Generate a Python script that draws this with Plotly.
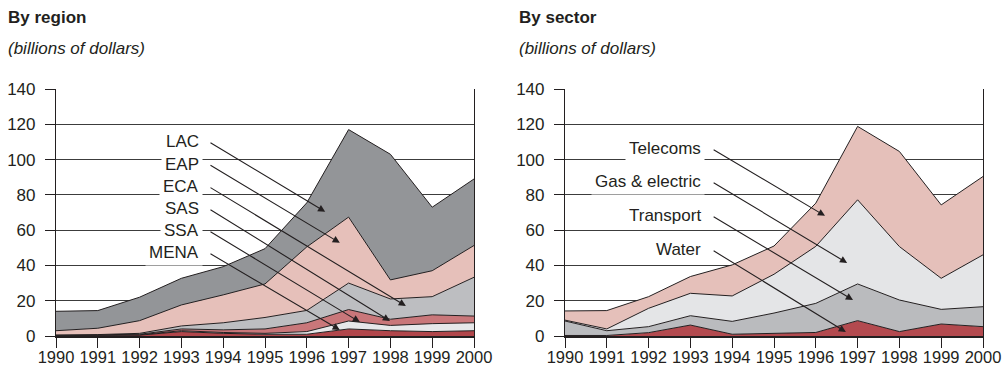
import plotly.graph_objects as go

years = [1990, 1991, 1992, 1993, 1994, 1995, 1996, 1997, 1998, 1999, 2000]

# By region (billions of dollars), stacked bottom to top
mena = [0.2, 0.2, 0.5, 2.5, 1.5, 1.0, 1.0, 4.0, 3.0, 2.5, 3.0]
ssa = [0.1, 0.1, 0.2, 0.5, 0.5, 0.5, 1.5, 4.5, 3.0, 4.5, 4.5]
sas = [0.1, 0.2, 0.3, 1.0, 1.5, 2.5, 5.0, 6.5, 3.5, 5.0, 3.8]
eca = [0.2, 0.3, 0.5, 1.7, 4.0, 6.5, 7.0, 15.0, 11.5, 10.3, 22.0]
eap = [2.4, 3.6, 7.2, 11.9, 15.8, 19.0, 36.0, 37.4, 10.8, 14.7, 18.0]
lac = [11.0, 10.0, 13.3, 15.1, 16.0, 20.0, 25.0, 49.6, 71.2, 36.0, 37.7]

# By sector (billions of dollars), stacked bottom to top
water = [0.3, 0.3, 1.9, 6.2, 1.0, 1.5, 2.0, 8.7, 2.5, 6.8, 5.3]
transport = [8.2, 2.7, 3.4, 5.3, 7.3, 11.5, 16.5, 20.8, 17.9, 8.3, 11.3]
gas_electric = [0.5, 1.0, 10.4, 12.7, 14.4, 22.0, 32.3, 47.7, 30.3, 17.6, 29.4]
telecoms = [5.2, 10.4, 6.6, 9.5, 17.6, 16.0, 24.5, 41.6, 53.9, 41.6, 44.4]

y_ticks = [0, 20, 40, 60, 80, 100, 120, 140]

FONT = "Liberation Sans, Arial, Helvetica, sans-serif"
INK = "#231f20"

region_series = [
    ("MENA", mena, "#b1464b"),
    ("SSA", ssa, "#e6e7e9"),
    ("SAS", sas, "#c9777a"),
    ("ECA", eca, "#bdbec1"),
    ("EAP", eap, "#e6c0ba"),
    ("LAC", lac, "#939598"),
]
sector_series = [
    ("Water", water, "#b34a4f"),
    ("Transport", transport, "#babbbe"),
    ("Gas & electric", gas_electric, "#e4e5e7"),
    ("Telecoms", telecoms, "#e5c0ba"),
]

fig = go.Figure()

for name, vals, col in region_series:
    fig.add_trace(go.Scatter(
        x=years, y=vals, name=name, stackgroup="region", mode="lines",
        line=dict(color=INK, width=1), fillcolor=col,
        xaxis="x", yaxis="y", showlegend=False, hoverinfo="skip"))

for name, vals, col in sector_series:
    fig.add_trace(go.Scatter(
        x=years, y=vals, name=name, stackgroup="sector", mode="lines",
        line=dict(color=INK, width=1), fillcolor=col,
        xaxis="x2", yaxis="y2", showlegend=False, hoverinfo="skip"))

W, H = 1002, 368
y_dom = [(H - 336) / H, (H - 89) / H]

xaxis_style = dict(
    range=[1990, 2000], tickvals=years, ticktext=[str(y) for y in years],
    showgrid=False, zeroline=False, showline=True, linecolor=INK, linewidth=2,
    ticks="outside", ticklen=10, tickcolor=INK, tickwidth=1, automargin=False,
    ticklabelstandoff=-5,
    tickfont=dict(family=FONT, size=16.5, color=INK), fixedrange=True)
yaxis_style = dict(
    range=[0, 140], tickvals=y_ticks, showgrid=True, gridcolor="#3c3c3c",
    gridwidth=1.2, zeroline=False, showline=True, mirror=True,
    linecolor=INK, linewidth=1.2, ticks="outside", ticklen=10,
    tickcolor=INK, tickwidth=1, ticklabelstandoff=6, automargin=False,
    tickfont=dict(family=FONT, size=17, color=INK), fixedrange=True)

fig.update_layout(
    width=W, height=H, margin=dict(l=0, r=0, t=0, b=0, autoexpand=False),
    paper_bgcolor="white", plot_bgcolor="white",
    xaxis=dict(domain=[56 / W, 474 / W], anchor="y", **xaxis_style),
    yaxis=dict(domain=y_dom, anchor="x", **yaxis_style),
    xaxis2=dict(domain=[565 / W, 983 / W], anchor="y2", **xaxis_style),
    yaxis2=dict(domain=y_dom, anchor="x2", **yaxis_style),
)

annotations = []

# Panel headings
for x0, head in [(6, "By region"), (517, "By sector")]:
    annotations.append(dict(
        text="<b>%s</b>" % head, x=x0 / W, y=(H - 17) / H, xref="paper", yref="paper",
        xanchor="left", yanchor="middle", showarrow=False,
        font=dict(family=FONT, size=17, color=INK)))
    annotations.append(dict(
        text="<i>(billions of dollars)</i>", x=x0 / W, y=(H - 48) / H,
        xref="paper", yref="paper", xanchor="left", yanchor="middle",
        showarrow=False, font=dict(family=FONT, size=17, color=INK)))

# Series labels: (label, label y, arrow tip x, arrow tip y) in data units
region_labels = [
    ("LAC", 110.1, 1996.44, 70.4),
    ("EAP", 97.3, 1996.79, 52.8),
    ("ECA", 84.6, 1998.37, 17.0),
    ("SAS", 72.1, 1997.99, 8.5),
    ("SSA", 59.6, 1997.27, 7.9),
    ("MENA", 47.1, 1996.79, 3.4),
]
sector_labels = [
    ("Telecoms", 106.1, 1996.22, 68.1),
    ("Gas & electric", 87.4, 1996.75, 41.4),
    ("Transport", 68.1, 1996.89, 20.4),
    ("Water", 48.8, 1996.72, 2.3),
]

for labels, xr, yr, text_x, tail_x in [
    (region_labels, "x", "y", 1993.52, 1993.66),
    (sector_labels, "x2", "y2", 1993.35, 1993.52),
]:
    for label, ly, tx, ty in labels:
        annotations.append(dict(
            text=label, x=text_x, y=ly, xref=xr, yref=yr, xanchor="right",
            yanchor="middle", showarrow=False, bgcolor="white", borderpad=3,
            font=dict(family=FONT, size=17, color=INK)))
        annotations.append(dict(
            text="", x=tx, y=ty, xref=xr, yref=yr, ax=tail_x, ay=ly,
            axref=xr, ayref=yr, showarrow=True, arrowhead=2, arrowsize=1.3,
            arrowwidth=1.1, arrowcolor=INK, standoff=0, startstandoff=0))

fig.update_layout(annotations=annotations)

fig.write_html("out.html")
